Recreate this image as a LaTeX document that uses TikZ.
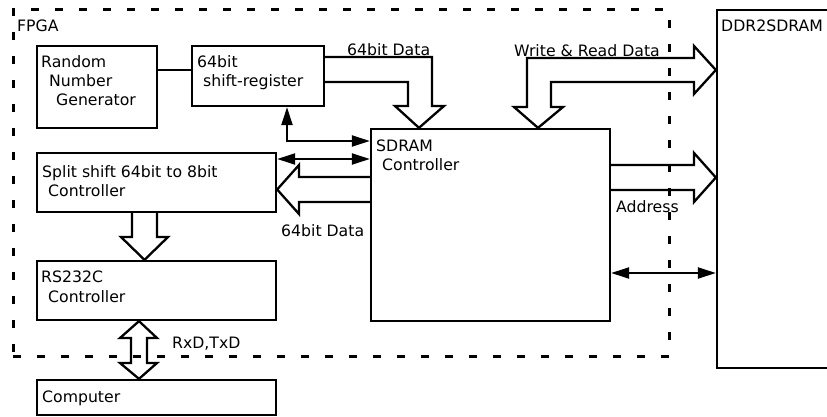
\documentclass[tikz,border=0pt]{standalone}
\usepackage{fontspec}
\setmainfont{DejaVu Sans}
\usetikzlibrary{arrows.meta,calc}
\begin{document}
\begin{tikzpicture}[x=1pt,y=-1pt,
  box/.style={draw,line width=2.3pt,inner sep=0pt,rectangle},
  txt/.style={anchor=base west,inner sep=0pt,font=\fontsize{15.7}{19}\selectfont},
  bigarrow/.style={line width=2.3pt,line join=miter},
  smallarrow/.style={line width=2.2pt,{Triangle[length=18pt,width=11pt]}-{Triangle[length=18pt,width=11pt]}},
  fpga/.style={draw,line width=3pt,dash pattern=on 8pt off 16pt,inner sep=0pt,rectangle}]
\useasboundingbox (0,0) rectangle (827,417);
\clip (0,0) rectangle (827,417);
% FPGA region
\node[fpga,minimum width=656pt,minimum height=346pt] (fpgabox) at (341,183) {};
\node[txt] (fpgaT) at (17,32) {FPGA};
% boxes
\node[box,minimum width=120pt,minimum height=82pt] (rng) at (97,87) {};
\node[box,minimum width=132pt,minimum height=60pt] (sreg) at (258,76) {};
\node[box,minimum width=239pt,minimum height=192pt] (sdram) at (490.5,225) {};
\node[box,minimum width=239pt,minimum height=59pt] (split) at (156.5,182.5) {};
\node[box,minimum width=239pt,minimum height=59pt] (rs) at (156.5,290.5) {};
\node[box,minimum width=239pt,minimum height=35pt] (comp) at (156.5,397.5) {};
\node[box,minimum width=143pt,minimum height=358pt] (ddr) at (788.5,189) {};
% texts
\node[txt] (rngT1) at (41,68) {Random};
\node[txt] (rngT2) at (49,87) {Number};
\node[txt] (rngT3) at (56,106) {Generator};
\node[txt] (sregT1) at (197,68) {64bit};
\node[txt] (sregT2) at (203,87) {shift-register};
\node[txt] (splitT1) at (42,177) {Split shift 64bit to 8bit};
\node[txt] (splitT2) at (48,196) {Controller};
\node[txt] (sdramT1) at (376,152) {SDRAM};
\node[txt] (sdramT2) at (382,171) {Controller};
\node[txt] (rsT1) at (41,282) {RS232C};
\node[txt] (rsT2) at (48,302) {Controller};
\node[txt] (compT) at (42,402) {Computer};
\node[txt] (ddrT) at (721,32) {DDR2SDRAM};
\node[txt] (dataT1) at (347,56) {64bit Data};
\node[txt] (wrT) at (514,57) {Write \& Read Data};
\node[txt] (addrT) at (616,212) {Address};
\node[txt] (dataT2) at (281,236) {64bit Data};
\node[txt] (rxT) at (172,348) {RxD,TxD};
% thin connectors
\draw[line width=2.2pt] (rng.east |- 0,70) -- (sreg.west |- 0,70);
\draw[smallarrow] (287,0 |- sreg.south) |- (sdram.west |- 0,141);
\draw[smallarrow] (split.east |- 0,159) -- (sdram.west |- 0,159);
\draw[smallarrow] (sdram.east |- 0,273) -- (ddr.west |- 0,273);
% big arrows
\draw[bigarrow] (sreg.east |- 0,57) -- (432,57) -- (432,106) -- (444,106) -- (419,0 |- sdram.north) -- (395,106) -- (408,106) -- (408,82) -- (sreg.east |- 0,82);
\draw[bigarrow] (538,0 |- sdram.north) -- (514,107) -- (527,107) -- (527,58) -- (694,58) -- (694,46) -- (ddr.west |- 0,70) -- (694,94) -- (694,82) -- (551,82) -- (551,107) -- (563,107) -- cycle;
\draw[bigarrow] (sdram.east |- 0,165) -- (694,165) -- (694,153) -- (ddr.west |- 0,177.5) -- (694,202) -- (694,190) -- (sdram.east |- 0,190);
\draw[bigarrow] (sdram.west |- 0,177) -- (299,177) -- (299,165) -- (split.east |- 0,189.5) -- (299,214) -- (299,202) -- (sdram.west |- 0,202);
\draw[bigarrow] (132,0 |- split.south) -- (132,237) -- (121,237) -- (144.5,0 |- rs.north) -- (168,237) -- (157,237) -- (157,0 |- split.south);
\draw[bigarrow] (139,0 |- rs.south) -- (157,338) -- (147,338) -- (147,363) -- (157,363) -- (139,0 |- comp.north) -- (120,363) -- (131,363) -- (131,338) -- (120,338) -- cycle;
\end{tikzpicture}
\end{document}
